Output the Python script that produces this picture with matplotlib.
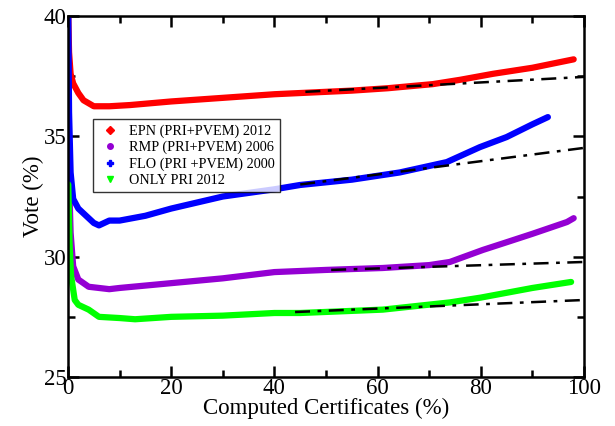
import numpy as np
import matplotlib.pyplot as plt
from matplotlib.lines import Line2D
from matplotlib.ticker import MultipleLocator

plt.rcParams['font.family'] = ['Liberation Serif', 'DejaVu Serif']
plt.rcParams['mathtext.fontset'] = 'stix'

# Data
epn_x = [0.05, 0.2, 0.5, 1, 2, 3, 5, 8, 12, 20, 30, 40, 45, 55, 62, 70.7, 76, 82.4, 90, 98]
epn_y = [40.0, 38.5, 37.6, 37.2, 36.8, 36.5, 36.25, 36.25, 36.3, 36.45, 36.6, 36.75, 36.8, 36.9, 37.0, 37.17, 37.35, 37.6, 37.85, 38.2]

flo_x = [0.05, 0.2, 0.5, 1, 2, 3, 5, 6, 8, 10, 15, 20, 30, 40, 45, 55, 64.3, 73.4, 79.8, 85, 90, 93]
flo_y = [40.0, 36.0, 33.5, 32.4, 32.0, 31.8, 31.4, 31.3, 31.5, 31.5, 31.7, 32.0, 32.5, 32.8, 32.98, 33.2, 33.5, 33.93, 34.55, 34.97, 35.5, 35.8]

rmp_x = [0.1, 0.3, 0.5, 1, 2, 4, 8, 10, 20, 30, 40, 50, 61, 70, 74, 80.4, 85, 90, 96.7, 98]
rmp_y = [34.5, 32.5, 31.0, 29.6, 29.05, 28.75, 28.65, 28.7, 28.9, 29.1, 29.36, 29.45, 29.53, 29.65, 29.78, 30.28, 30.6, 30.95, 31.44, 31.6]

pri_x = [0.05, 0.3, 0.6, 1.3, 2, 4, 6, 10, 13, 20, 30, 40, 45, 61, 74, 80, 90, 97.5]
pri_y = [33.0, 30.5, 29.2, 28.2, 28.0, 27.8, 27.5, 27.45, 27.4, 27.5, 27.55, 27.66, 27.66, 27.8, 28.1, 28.3, 28.7, 28.95]

# linear fits (dash-dot), start and end points
fit_x = [[46, 100], [45, 100], [51, 100], [44, 100]]
fit_y = [[36.85, 37.47], [33.0, 34.52], [29.45, 29.78], [27.7, 28.2]]

labels = ['EPN (PRI+PVEM) 2012', 'RMP (PRI+PVEM) 2006',
          'FLO (PRI +PVEM) 2000', 'ONLY PRI 2012']
colors = ['#ff0000', '#9400d3', '#0000ff', '#00ff00']
markers = ['D', 'o', 'P', 'v']

fig = plt.figure(figsize=(6.15, 4.26), dpi=100)
ax = fig.add_axes([0.1106, 0.115, 0.839, 0.8474])

ax.plot(epn_x, epn_y, color=colors[0], lw=4.5, solid_capstyle='round')
ax.plot(rmp_x, rmp_y, color=colors[1], lw=4.5, solid_capstyle='round')
ax.plot(flo_x, flo_y, color=colors[2], lw=4.5, solid_capstyle='round')
ax.plot(pri_x, pri_y, color=colors[3], lw=4.5, solid_capstyle='round')

for fx, fy in zip(fit_x, fit_y):
    ax.plot(fx, fy, color='black', lw=1.8, dashes=(6, 3, 1.5, 3))

ax.set_xlim(0, 100)
ax.set_ylim(25, 40)
ax.xaxis.set_major_locator(MultipleLocator(20))
ax.xaxis.set_minor_locator(MultipleLocator(10))
ax.yaxis.set_major_locator(MultipleLocator(5))
ax.yaxis.set_minor_locator(MultipleLocator(2.5))
ax.tick_params(which='both', direction='in', top=True, right=True,
               labelsize=16.5, width=1.8, pad=1)
ax.tick_params(which='major', length=8)
ax.tick_params(which='minor', length=5)
for s in ax.spines.values():
    s.set_linewidth(1.8)

ax.set_xlabel('Computed Certificates (%)', fontsize=16.5, labelpad=-1)
ax.set_ylabel('Vote (%)', fontsize=16.5, labelpad=0)

handles = [Line2D([], [], ls='none', marker=m, color=c, markersize=4)
           for m, c in zip(markers, colors)]
leg = ax.legend(handles, labels, loc='upper left', bbox_to_anchor=(0.035, 0.735),
                fontsize=10.3, frameon=True, fancybox=False, edgecolor='black',
                handletextpad=0.6, borderpad=0.4, labelspacing=0.2, handlelength=1.5)
leg.get_frame().set_linewidth(1.0)

fig.savefig('out.png', dpi=100)
